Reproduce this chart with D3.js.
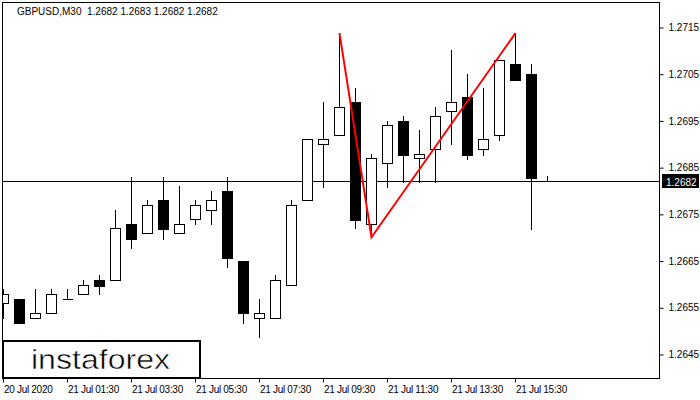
<!DOCTYPE html>
<html>
<head>
<meta charset="utf-8">
<script src="https://cdn.jsdelivr.net/npm/d3@7"></script>
<style>
  html, body { margin: 0; padding: 0; background: #fff; }
  svg { display: block; }
  text { font-family: "Liberation Sans", Arial, sans-serif; white-space: pre; }
</style>
</head>
<body>
<svg id="chart" width="700" height="400"></svg>
<script>
// ---- data ----
const categories = [
  "20 Jul 23:30","21 Jul 00:00","21 Jul 00:30","21 Jul 01:00","21 Jul 01:30","21 Jul 02:00","21 Jul 02:30",
  "21 Jul 03:00","21 Jul 03:30","21 Jul 04:00","21 Jul 04:30","21 Jul 05:00","21 Jul 05:30","21 Jul 06:00",
  "21 Jul 06:30","21 Jul 07:00","21 Jul 07:30","21 Jul 08:00","21 Jul 08:30","21 Jul 09:00","21 Jul 09:30",
  "21 Jul 10:00","21 Jul 10:30","21 Jul 11:00","21 Jul 11:30","21 Jul 12:00","21 Jul 12:30","21 Jul 13:00",
  "21 Jul 13:30","21 Jul 14:00","21 Jul 14:30","21 Jul 15:00","21 Jul 15:30","21 Jul 16:00","21 Jul 16:30"
];
const openValues  = [1.26559,1.26568,1.26528,1.26538,1.26568,1.26578,1.26608,1.26608,1.26728,1.26709,1.26780,1.26709,1.26739,1.26758,1.26799,1.26649,1.26528,1.26528,1.26598,1.26780,1.26900,1.26919,1.26989,1.26728,1.26859,1.26949,1.26870,1.26889,1.26970,1.27000,1.26889,1.26919,1.27071,1.27049,1.2682];
const highValues  = [1.26589,1.26568,1.26589,1.26589,1.26589,1.26608,1.26619,1.26758,1.26829,1.26780,1.26829,1.26810,1.26780,1.26799,1.26829,1.26649,1.26568,1.26619,1.26780,1.26910,1.26989,1.27137,1.27019,1.26878,1.26949,1.26959,1.26930,1.26979,1.27101,1.27049,1.27019,1.27079,1.27137,1.27071,1.2683];
const lowValues   = [1.26528,1.26516,1.26528,1.26538,1.26568,1.26578,1.26578,1.26608,1.26677,1.26709,1.26696,1.26709,1.26728,1.26728,1.26636,1.26516,1.26486,1.26528,1.26598,1.26780,1.26807,1.26919,1.26720,1.26700,1.26807,1.26818,1.26818,1.26818,1.26900,1.26867,1.26876,1.26908,1.27037,1.26718,1.2682];
const closeValues = [1.26578,1.26516,1.26538,1.26578,1.26568,1.26598,1.26596,1.26720,1.26696,1.26769,1.26718,1.26728,1.26769,1.26780,1.26655,1.26538,1.26538,1.26608,1.26769,1.26910,1.26910,1.26979,1.26737,1.26870,1.26940,1.26876,1.26878,1.26959,1.26989,1.26876,1.26910,1.27079,1.27037,1.26827,1.2682];

const yTickValues = [1.2645,1.2655,1.2665,1.2675,1.2685,1.2695,1.2705,1.2715];
const xTickCategories = ["20 Jul 23:30","21 Jul 01:30","21 Jul 03:30","21 Jul 05:30","21 Jul 07:30","21 Jul 09:30","21 Jul 11:30","21 Jul 13:30","21 Jul 15:30"];
const xTickLabels = ["20 Jul 2020","21 Jul 01:30","21 Jul 03:30","21 Jul 05:30","21 Jul 07:30","21 Jul 09:30","21 Jul 11:30","21 Jul 13:30","21 Jul 15:30"];

const patternCategories = ["21 Jul 10:00","21 Jul 11:00","21 Jul 15:30"];
const patternValues = [1.27137, 1.26700, 1.27137];

const currentPrice = 1.2682;
const headerText = "GBPUSD,M30  1.2682 1.2683 1.2682 1.2682";
const logoText = "instaforex";

// ---- layout ----
const plot = { left: 2, right: 659, top: 2, bottom: 378 };
const svg = d3.select("#chart");

const x = d3.scalePoint().domain(categories).range([3, 547]);
const y = d3.scaleLinear().domain([1.2645, 1.2715]).range([354, 27]);
const py = v => Math.round(y(v)) + 0.5;
const px = c => Math.round(x(c)) + 0.5;

const bars = categories.map((c, i) => ({
  c, o: openValues[i], h: highValues[i], l: lowValues[i], cl: closeValues[i]
}));

svg.append("rect").attr("x", 0).attr("y", 0).attr("width", 700).attr("height", 400).attr("fill", "#fff");

svg.append("clipPath").attr("id", "plotclip")
  .append("rect").attr("x", plot.left).attr("y", plot.top)
  .attr("width", plot.right - plot.left).attr("height", plot.bottom - plot.top);

const g = svg.append("g").attr("clip-path", "url(#plotclip)");

// current price line
g.append("line")
  .attr("x1", plot.left).attr("x2", plot.right)
  .attr("y1", py(currentPrice)).attr("y2", py(currentPrice))
  .attr("stroke", "#000").attr("stroke-width", 1);

// wicks
g.selectAll("line.wick").data(bars).join("line")
  .attr("class", "wick")
  .attr("x1", d => px(d.c)).attr("x2", d => px(d.c))
  .attr("y1", d => py(d.h) - 0.5).attr("y2", d => py(d.l) + 0.5)
  .attr("stroke", "#000").attr("stroke-width", 1)
  .attr("shape-rendering", "crispEdges");

// bodies
g.selectAll("rect.body").data(bars.filter(d => d.o !== d.cl)).join("rect")
  .attr("class", "body")
  .attr("x", d => px(d.c) - 5)
  .attr("width", 10)
  .attr("y", d => py(Math.max(d.o, d.cl)))
  .attr("height", d => Math.max(1, py(Math.min(d.o, d.cl)) - py(Math.max(d.o, d.cl))))
  .attr("fill", d => d.cl > d.o ? "#fff" : "#000")
  .attr("stroke", "#000").attr("stroke-width", 1)
  .attr("shape-rendering", "crispEdges");

// doji
g.selectAll("line.doji").data(bars.filter(d => d.o === d.cl)).join("line")
  .attr("class", "doji")
  .attr("x1", d => px(d.c) - 5).attr("x2", d => px(d.c) + 5)
  .attr("y1", d => py(d.o)).attr("y2", d => py(d.o))
  .attr("stroke", "#000").attr("stroke-width", 1)
  .attr("shape-rendering", "crispEdges");

// pattern line
const pattern = patternCategories.map((c, i) => [x(c) + 0.5, y(patternValues[i])]);
g.append("path")
  .attr("d", d3.line()(pattern))
  .attr("fill", "none").attr("stroke", "#ff0000").attr("stroke-width", 2);

// frame
svg.append("rect")
  .attr("x", plot.left + 0.5).attr("y", plot.top + 0.5)
  .attr("width", plot.right - plot.left).attr("height", plot.bottom - plot.top)
  .attr("fill", "none").attr("stroke", "#000").attr("stroke-width", 1);

// y axis
const yAxis = d3.axisRight(y).tickValues(yTickValues).tickSize(4).tickPadding(5)
  .tickFormat(d3.format(".4f"));
const ya = svg.append("g").attr("transform", `translate(${plot.right + 0.5},0.5)`).call(yAxis);
ya.select(".domain").remove();
ya.selectAll("text").attr("font-size", 10).attr("font-family", "Liberation Sans, Arial, sans-serif").attr("fill", "#000");
ya.selectAll("line").attr("stroke", "#000");

// current price label
const cpY = py(currentPrice);
svg.append("rect").attr("x", 662).attr("y", cpY - 7.5).attr("width", 37).attr("height", 14).attr("fill", "#000");
svg.append("text").attr("x", 666).attr("y", cpY + 4)
  .attr("font-size", 10).attr("fill", "#fff").text(d3.format(".4f")(currentPrice));

// x axis
const xa = svg.append("g").attr("transform", `translate(0,${plot.bottom + 0.5})`);
xTickCategories.forEach((c, i) => {
  const xx = px(c);
  xa.append("line").attr("x1", xx).attr("x2", xx).attr("y1", 0).attr("y2", 4).attr("stroke", "#000");
  xa.append("text").attr("x", xx + 0.5).attr("y", 14)
    .attr("font-size", 10).attr("letter-spacing", -0.3).attr("fill", "#000").text(xTickLabels[i]);
});

// header
svg.append("text").attr("x", 17).attr("y", 15).attr("font-size", 10).attr("fill", "#000")
  .attr("xml:space", "preserve").text(headerText);

// logo
svg.append("rect").attr("x", 3).attr("y", 341).attr("width", 197).attr("height", 37)
  .attr("fill", "#fff").attr("stroke", "#000").attr("stroke-width", 2);
svg.append("text").attr("x", 31).attr("y", 369)
  .attr("font-family", "Roboto, 'Open Sans', sans-serif").attr("font-size", 27).attr("font-weight", 300)
  .attr("textLength", 139).attr("lengthAdjust", "spacingAndGlyphs")
  .attr("fill", "#000").attr("stroke", "#fff").attr("stroke-width", 0.5)
  .text(logoText);
</script>
</body>
</html>
